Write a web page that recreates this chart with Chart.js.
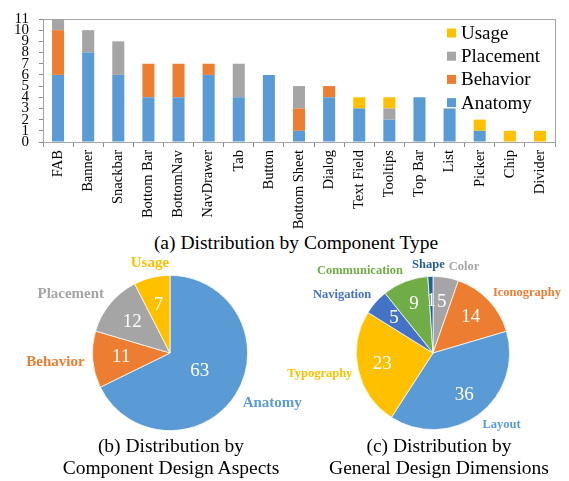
<!DOCTYPE html>
<html>
<head>
<meta charset="utf-8">
<script src="https://cdn.jsdelivr.net/npm/chart.js@4.4.0/dist/chart.umd.min.js"></script>
<style>
    html, body { margin: 0; padding: 0; background: #fff; }
    #page { position: relative; width: 569px; height: 481px; overflow: hidden;
            font-family: "Liberation Serif", "DejaVu Serif", serif; color: #000; }
    canvas { position: absolute; }
    .cap { position: absolute; font-size: 19.5px; line-height: 22px; text-align: center;
           white-space: nowrap; transform: translateX(-50%); }
</style>
</head>
<body>
<div id="page">
    <canvas id="barChart" width="569" height="232" style="left:0;top:0"></canvas>
    <div class="cap" style="left:296px;top:232px">(a) Distribution by Component Type</div>

    <canvas id="aspectChart" width="330" height="190" style="left:0;top:250px"></canvas>
    <div class="cap" style="left:171px;top:435px">(b) Distribution by<br>Component Design Aspects</div>

    <canvas id="dimensionChart" width="284" height="190" style="left:285px;top:250px"></canvas>
    <div class="cap" style="left:439px;top:435px">(c) Distribution by<br>General Design Dimensions</div>
</div>

<script>
// ---- Data: (a) component types, stacked by aspect ----
const components = ['FAB', 'Banner', 'Snackbar', 'Bottom Bar', 'BottomNav', 'NavDrawer', 'Tab', 'Button',
    'Bottom Sheet', 'Dialog', 'Text Field', 'Tooltips', 'Top Bar', 'List', 'Picker', 'Chip', 'Divider'];
const anatomy   = [6, 8, 6, 4, 4, 6, 4, 6, 1, 4, 3, 2, 4, 3, 1, 0, 0];
const behavior  = [4, 0, 0, 3, 3, 1, 0, 0, 2, 1, 0, 0, 0, 0, 0, 0, 0];
const placement = [1, 2, 3, 0, 0, 0, 3, 0, 2, 0, 0, 1, 0, 0, 0, 0, 0];
const usage     = [0, 0, 0, 0, 0, 0, 0, 0, 0, 0, 1, 1, 0, 0, 1, 1, 1];
const yMax = 11;

// ---- Data: (b) design aspects ----
const aspectLabels = ['Anatomy', 'Behavior', 'Placement', 'Usage'];
const aspectCounts = [63, 11, 12, 7];

// ---- Data: (c) design dimensions ----
const dimensionLabels = ['Color', 'Iconography', 'Layout', 'Typography', 'Navigation', 'Communication', 'Shape'];
const dimensionCounts = [5, 14, 36, 23, 5, 9, 1];

const C = {
    blue: '#5B9BD5', orange: '#ED7D31', gray: '#A5A5A5', yellow: '#FFC000',
    navy: '#4472C4', green: '#70AD47', shape: '#255E91', axis: '#8c8c8c'
};
const SERIF = '"Liberation Serif", "DejaVu Serif", serif';

Chart.defaults.font.family = SERIF;
Chart.defaults.color = '#000';

// ---- Plugin: box around plot + legend inside top right ----
const plotFrame = {
    id: 'plotFrame',
    beforeDatasetsDraw(chart) {
        const { ctx, chartArea: a } = chart;
        ctx.save();
        ctx.strokeStyle = '#a6a6a6';
        ctx.lineWidth = 1;
        ctx.strokeRect(a.left + 0.5, a.top + 0.5, a.right - a.left, a.bottom - a.top);
        ctx.restore();
    },
    afterDraw(chart) {
        const { ctx, chartArea: a } = chart;
        const items = chart.data.datasets.slice().reverse();
        ctx.save();
        ctx.font = '19px ' + SERIF;
        ctx.textBaseline = 'middle';
        items.forEach((ds, i) => {
            const y = a.top + 14 + i * 23.2;
            const x = a.right - 108;
            ctx.fillStyle = ds.backgroundColor;
            ctx.fillRect(x, y - 4.5, 9, 9);
            ctx.fillStyle = '#000';
            ctx.fillText(ds.label, x + 14, y + 1);
        });
        ctx.restore();
    }
};

new Chart(document.getElementById('barChart'), {
    type: 'bar',
    data: {
        labels: components,
        datasets: [
            { label: 'Anatomy',   data: anatomy,   backgroundColor: C.blue },
            { label: 'Behavior',  data: behavior,  backgroundColor: C.orange },
            { label: 'Placement', data: placement, backgroundColor: C.gray },
            { label: 'Usage',     data: usage,     backgroundColor: C.yellow }
        ]
    },
    options: {
        responsive: false,
        animation: false,
        barPercentage: 0.4,
        categoryPercentage: 1,
        layout: { padding: { top: 10, right: 14, left: 0, bottom: 0 } },
        plugins: { legend: { display: false }, tooltip: { enabled: false } },
        scales: {
            x: {
                stacked: true,
                afterFit: s => { s.height = 90; },
                grid: { offset: true, drawOnChartArea: false, tickLength: 5, color: C.axis },
                border: { color: C.axis },
                ticks: { font: { size: 14.5 }, minRotation: 90, maxRotation: 90, autoSkip: false, padding: 3 }
            },
            y: {
                stacked: true,
                min: 0, max: yMax,
                afterFit: s => { s.width = 43; },
                grid: { drawOnChartArea: false, tickLength: 4, color: C.axis },
                border: { color: C.axis },
                ticks: { stepSize: 1, autoSkip: false, font: { size: 15 }, padding: 10 }
            }
        }
    },
    plugins: [plotFrame]
});

// ---- Plugin: values inside slices, names outside ----
const pieLabels = {
    id: 'pieLabels',
    afterDatasetsDraw(chart, args, opts) {
        const { ctx } = chart;
        const ds = chart.data.datasets[0];
        const arcs = chart.getDatasetMeta(0).data;
        const boxes = [];
        ctx.save();
        arcs.forEach((arc, i) => {
            const p = arc.getProps(['x', 'y', 'startAngle', 'endAngle', 'outerRadius'], true);
            const mid = (p.startAngle + p.endAngle) / 2;
            const cos = Math.cos(mid), sin = Math.sin(mid);
            const k = (p.endAngle - p.startAngle) > Math.PI ? opts.bigRadius : opts.valueRadius;
            ctx.font = opts.valueSize + 'px ' + SERIF;
            ctx.fillStyle = '#fff';
            ctx.textAlign = 'center';
            ctx.textBaseline = 'middle';
            ctx.fillText(String(ds.data[i]), p.x + cos * p.outerRadius * k, p.y + sin * p.outerRadius * k);

            ctx.font = 'bold ' + opts.nameSize + 'px ' + SERIF;
            const w = ctx.measureText(chart.data.labels[i]).width;
            const h = opts.nameSize;
            const r = p.outerRadius + opts.gap;
            const ax = p.x + cos * r, ay = p.y + sin * r;
            let cx = ax;
            if (cos > 0.15) cx = ax + w / 2;
            else if (cos < -0.3) cx = ax - w / 2;
            boxes.push({ i, cx, cy: ay + sin * h / 2, w, h });
        });
        // push overlapping names apart sideways
        for (let a = 0; a < boxes.length; a++) {
            for (let b = a + 1; b < boxes.length; b++) {
                const A = boxes[a], B = boxes[b];
                if (Math.abs(A.cy - B.cy) >= (A.h + B.h) / 2) continue;
                const over = (A.w + B.w) / 2 + 4 - Math.abs(A.cx - B.cx);
                if (over <= 0) continue;
                const dir = A.cx < B.cx ? -1 : 1;
                A.cx += dir * over / 2;
                B.cx -= dir * over / 2;
            }
        }
        ctx.textAlign = 'center';
        ctx.textBaseline = 'middle';
        boxes.forEach(bx => {
            ctx.fillStyle = ds.backgroundColor[bx.i];
            ctx.fillText(chart.data.labels[bx.i], bx.cx, bx.cy + 1);
        });
        ctx.restore();
    }
};

function pieChart(id, labels, values, colors, padding, labelOpts) {
    return new Chart(document.getElementById(id), {
        type: 'pie',
        data: {
            labels: labels,
            datasets: [{ data: values, backgroundColor: colors, borderColor: '#fff', borderWidth: 0.75 }]
        },
        options: {
            responsive: false,
            animation: false,
            layout: { padding: padding },
            plugins: { legend: { display: false }, tooltip: { enabled: false }, pieLabels: labelOpts }
        },
        plugins: [pieLabels]
    });
}

pieChart('aspectChart', aspectLabels, aspectCounts,
    [C.blue, C.orange, C.gray, C.yellow],
    { left: 92, right: 82, top: 25, bottom: 9 },
    { valueRadius: 0.63, bigRadius: 0.45, valueSize: 19, nameSize: 15, gap: 8 });

pieChart('dimensionChart', dimensionLabels, dimensionCounts,
    [C.gray, C.orange, C.blue, C.yellow, C.navy, C.green, C.shape],
    { left: 71, right: 59, top: 26, bottom: 10 },
    { valueRadius: 0.68, bigRadius: 0.5, valueSize: 19, nameSize: 12.5, gap: 6 });
</script>
</body>
</html>
